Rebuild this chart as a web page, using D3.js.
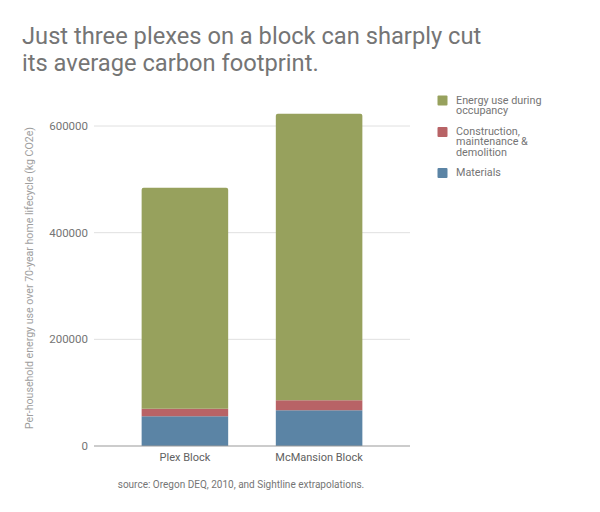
<!DOCTYPE html>
<html>
<head>
<meta charset="utf-8">
<script src="https://cdn.jsdelivr.net/npm/d3@7"></script>
<style>
  body { margin: 0; background: #fff; }
  svg { font-family: Roboto, "Noto Sans", sans-serif; }
</style>
</head>
<body>
<div id="chart"></div>
<script>
// Chart data
let categories = ["Plex Block", "McMansion Block"];
let seriesNames = ["Materials", "Construction, maintenance & demolition", "Energy use during occupancy"];
let materials = [56000, 67000];
let construction = [14000, 19000];
let energyUse = [414000, 537000];
let yTicks = [0, 200000, 400000, 600000];
let colors = ["#5b84a5", "#b86366", "#97a15d"];

let width = 600;
let height = 512;
let margin = { top: 126, right: 190, bottom: 66, left: 94 };

let svg = d3.select("#chart").append("svg")
    .attr("width", width)
    .attr("height", height);

// Title
svg.append("text")
    .attr("x", 22).attr("y", 44)
    .style("font-size", "23.7px").style("fill", "#757575")
    .text("Just three plexes on a block can sharply cut");
svg.append("text")
    .attr("x", 22).attr("y", 71)
    .style("font-size", "23.7px").style("fill", "#757575")
    .text("its average carbon footprint.");

// Build stacked table
let table = categories.map((c, i) => ({
    cat: c,
    s0: materials[i],
    s1: construction[i],
    s2: energyUse[i]
}));
let stack = d3.stack().keys(["s0", "s1", "s2"])(table);

let x = d3.scaleBand()
    .domain(categories)
    .range([margin.left, width - margin.right])
    .paddingInner(0.355)
    .paddingOuter(0.355);

let y = d3.scaleLinear()
    .domain([0, 600000])
    .range([height - margin.bottom, margin.top]);

// Gridlines
svg.append("g")
    .selectAll("line")
    .data(yTicks.slice(1))
    .join("line")
    .attr("x1", margin.left).attr("x2", width - margin.right)
    .attr("y1", d => y(d)).attr("y2", d => y(d))
    .attr("stroke", "#e0e0e0").attr("stroke-width", 1);

// Y tick labels
svg.append("g")
    .selectAll("text")
    .data(yTicks)
    .join("text")
    .attr("x", margin.left - 6)
    .attr("y", d => y(d) + 4)
    .attr("text-anchor", "end")
    .style("font-size", "11.5px").style("fill", "#757575")
    .text(d => d);

// Bars
let layers = svg.append("g")
    .selectAll("g")
    .data(stack)
    .join("g")
    .attr("fill", (d, i) => colors[i]);

layers.selectAll("path")
    .data((d, li) => d.map(p => ({ p: p, top: li === stack.length - 1 })))
    .join("path")
    .attr("d", d => {
        let x0 = x(d.p.data.cat), w = x.bandwidth();
        let y0 = y(d.p[0]), y1 = y(d.p[1]);
        let r = d.top ? 2 : 0;
        return `M${x0},${y0} L${x0},${y1 + r} Q${x0},${y1} ${x0 + r},${y1} L${x0 + w - r},${y1} Q${x0 + w},${y1} ${x0 + w},${y1 + r} L${x0 + w},${y0} Z`;
    });

// Baseline
svg.append("line")
    .attr("x1", margin.left).attr("x2", width - margin.right)
    .attr("y1", y(0)).attr("y2", y(0))
    .attr("stroke", "#999").attr("stroke-width", 1);

// X labels
svg.append("g")
    .selectAll("text")
    .data(categories)
    .join("text")
    .attr("x", d => x(d) + x.bandwidth() / 2)
    .attr("y", y(0) + 15)
    .attr("text-anchor", "middle")
    .style("font-size", "11px").style("fill", "#616161")
    .text(d => d);

// Y axis title
svg.append("text")
    .attr("transform", `translate(33, ${(y(0) + y(600000)) / 2 - 8}) rotate(-90)`)
    .attr("text-anchor", "middle")
    .style("font-size", "10.6px").style("fill", "#9e9e9e")
    .text("Per-household energy use over 70-year home lifecycle (kg CO2e)");

// Source
svg.append("text")
    .attr("x", 241).attr("y", 488)
    .attr("text-anchor", "middle")
    .style("font-size", "10px").style("fill", "#757575")
    .text("source: Oregon DEQ, 2010, and Sightline extrapolations.");

// Legend
let legendItems = [
    { lines: ["Energy use during", "occupancy"], color: colors[2], y: 95.5 },
    { lines: ["Construction,", "maintenance &", "demolition"], color: colors[1], y: 127 },
    { lines: ["Materials"], color: colors[0], y: 168 }
];
let legend = svg.append("g")
    .selectAll("g")
    .data(legendItems)
    .join("g")
    .attr("transform", d => `translate(437.5, ${d.y})`);
legend.append("rect")
    .attr("width", 10).attr("height", 10)
    .attr("rx", 1)
    .attr("fill", d => d.color);
legend.append("text")
    .style("font-size", "10.8px").style("fill", "#757575")
    .selectAll("tspan")
    .data(d => d.lines)
    .join("tspan")
    .attr("x", 18.5)
    .attr("y", (d, i) => 8 + i * 10.3)
    .text(d => d);
</script>
</body>
</html>
